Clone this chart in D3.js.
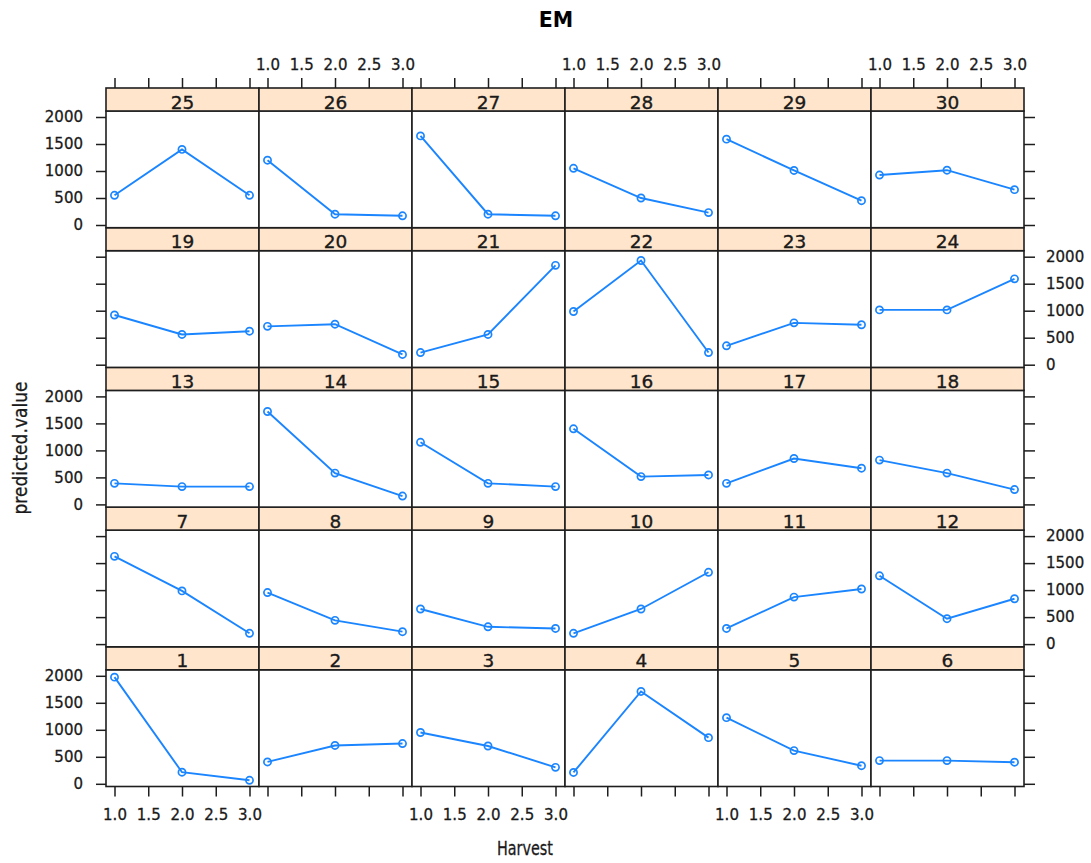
<!DOCTYPE html>
<html>
<head>
<meta charset="utf-8">
<script src="https://cdn.jsdelivr.net/npm/d3@7"></script>
<style>
  html, body { margin: 0; padding: 0; background: #fff; }
  svg { display: block; }
</style>
</head>
<body>
<svg id="chart" width="1091" height="863"></svg>
<script>
// ---- data ----
const panels   = [1,2,3,4,5,6,7,8,9,10,11,12,13,14,15,16,17,18,19,20,21,22,23,24,25,26,27,28,29,30];
const harvest  = [1, 2, 3];
const valuesH1 = [1975, 405, 950, 210, 1225, 430, 1625, 955, 650, 200, 290, 1265, 390, 1720, 1150, 1400, 390, 820, 920, 710, 225, 985, 350, 1015, 550, 1200, 1650, 1050, 1590, 925];
const valuesH2 = [215, 710, 700, 1710, 615, 430, 985, 440, 320, 650, 870, 470, 330, 580, 390, 515, 850, 580, 560, 750, 560, 1930, 775, 1015, 1400, 200, 200, 500, 1010, 1015];
const valuesH3 = [65, 745, 305, 855, 335, 400, 200, 230, 290, 1330, 1020, 840, 330, 155, 330, 545, 670, 275, 620, 190, 1840, 225, 740, 1590, 550, 170, 170, 230, 450, 655];
const xTicks = [1.0, 1.5, 2.0, 2.5, 3.0];
const yTicks = [0, 500, 1000, 1500, 2000];
const titleText = "EM";
const xLabel = "Harvest";
const yLabel = "predicted.value";

// ---- layout ----
const nCols = 6, nRows = 5;
const gridLeft = 106, gridTop = 88, colW = 153, rowH = 139.7, stripH = 23;
const lineCol = "#1a85ff", stripFill = "#ffe5cc", frame = "#1e1e1e";
const font = "DejaVu Sans, Verdana, sans-serif";
const txtCol = "#1a1a1a";

const svg = d3.select("#chart");

svg.append("text").attr("x", 556).attr("y", 26.5).attr("text-anchor", "middle")
  .attr("font-family", font).attr("font-weight", "bold").attr("font-size", 20.5)
  .attr("fill", "#000").text(titleText);

svg.append("text").attr("x", 525).attr("y", 855).attr("text-anchor", "middle")
  .attr("font-family", font).attr("font-size", 19.5).attr("fill", txtCol)
  .attr("stroke", txtCol).attr("stroke-width", 0.3)
  .attr("textLength", 56).attr("lengthAdjust", "spacingAndGlyphs").text(xLabel);

svg.append("text").attr("transform", "translate(27,448) rotate(-90)").attr("text-anchor", "middle")
  .attr("font-family", font).attr("font-size", 19).attr("fill", txtCol)
  .attr("stroke", txtCol).attr("stroke-width", 0.3)
  .attr("textLength", 133).attr("lengthAdjust", "spacingAndGlyphs").text(yLabel);

const data = panels.map((p, i) => ({
  id: p,
  vals: [valuesH1[i], valuesH2[i], valuesH3[i]]
}));

function styleAxis(g, fs) {
  g.select(".domain").remove();
  g.attr("font-family", font).attr("font-size", fs);
  g.selectAll(".tick line").attr("stroke", frame).attr("stroke-width", 1.5);
  g.selectAll(".tick text").attr("fill", txtCol).attr("stroke", txtCol).attr("stroke-width", 0.3);
}

data.forEach((d, i) => {
  const rowFromBottom = Math.floor(i / nCols);
  const c = i % nCols;
  const r = nRows - 1 - rowFromBottom;
  const x0 = gridLeft + c * colW;
  const y0 = gridTop + r * rowH;

  const x = d3.scaleLinear().domain([1, 3]).range([x0 + 8.5, x0 + 143.5]);
  const y = d3.scaleLinear().domain([0, 2000]).range([y0 + 137, y0 + 29]);

  const g = svg.append("g");

  g.append("rect").attr("x", x0).attr("y", y0 + stripH).attr("width", colW).attr("height", rowH - stripH)
    .attr("fill", "#fff").attr("stroke", frame).attr("stroke-width", 1.6);
  g.append("rect").attr("x", x0).attr("y", y0).attr("width", colW).attr("height", stripH)
    .attr("fill", stripFill).attr("stroke", frame).attr("stroke-width", 1.6);
  g.append("text").attr("x", x0 + colW / 2).attr("y", y0 + 20.5).attr("text-anchor", "middle")
    .attr("font-family", font).attr("font-size", 18.5).attr("fill", txtCol)
    .attr("stroke", txtCol).attr("stroke-width", 0.35).text(d.id);

  const pts = harvest.map((h, k) => ({ h: h, v: d.vals[k] }));
  g.append("path").datum(pts)
    .attr("d", d3.line().x(p => x(p.h)).y(p => y(p.v)))
    .attr("fill", "none").attr("stroke", lineCol).attr("stroke-width", 1.9);
  g.selectAll("circle").data(pts).enter().append("circle")
    .attr("cx", p => x(p.h)).attr("cy", p => y(p.v)).attr("r", 3.6)
    .attr("fill", "none").attr("stroke", lineCol).attr("stroke-width", 1.7);

  if (r === 0) {
    const ax = d3.axisTop(x).tickValues(xTicks).tickSize(10).tickSizeOuter(0).tickPadding(8)
      .tickFormat(c % 2 === 1 ? d3.format(".1f") : () => "");
    const ga = svg.append("g").attr("transform", `translate(0,${y0})`).call(ax);
    styleAxis(ga, 15);
  }
  if (r === nRows - 1) {
    const ax = d3.axisBottom(x).tickValues(xTicks).tickSize(10).tickSizeOuter(0).tickPadding(13)
      .tickFormat(c % 2 === 0 ? d3.format(".1f") : () => "");
    const ga = svg.append("g").attr("transform", `translate(0,${y0 + rowH})`).call(ax);
    styleAxis(ga, 15);
  }
  if (c === 0) {
    const ax = d3.axisLeft(y).tickValues(yTicks).tickSize(10).tickSizeOuter(0).tickPadding(13)
      .tickFormat(r % 2 === 0 ? d3.format("d") : () => "");
    const ga = svg.append("g").attr("transform", `translate(${x0},0)`).call(ax);
    styleAxis(ga, 15);
  }
  if (c === nCols - 1) {
    const ax = d3.axisRight(y).tickValues(yTicks).tickSize(11).tickSizeOuter(0).tickPadding(11)
      .tickFormat(r % 2 === 1 ? d3.format("d") : () => "");
    const ga = svg.append("g").attr("transform", `translate(${x0 + colW},0)`).call(ax);
    styleAxis(ga, 15);
  }
});
</script>
</body>
</html>
